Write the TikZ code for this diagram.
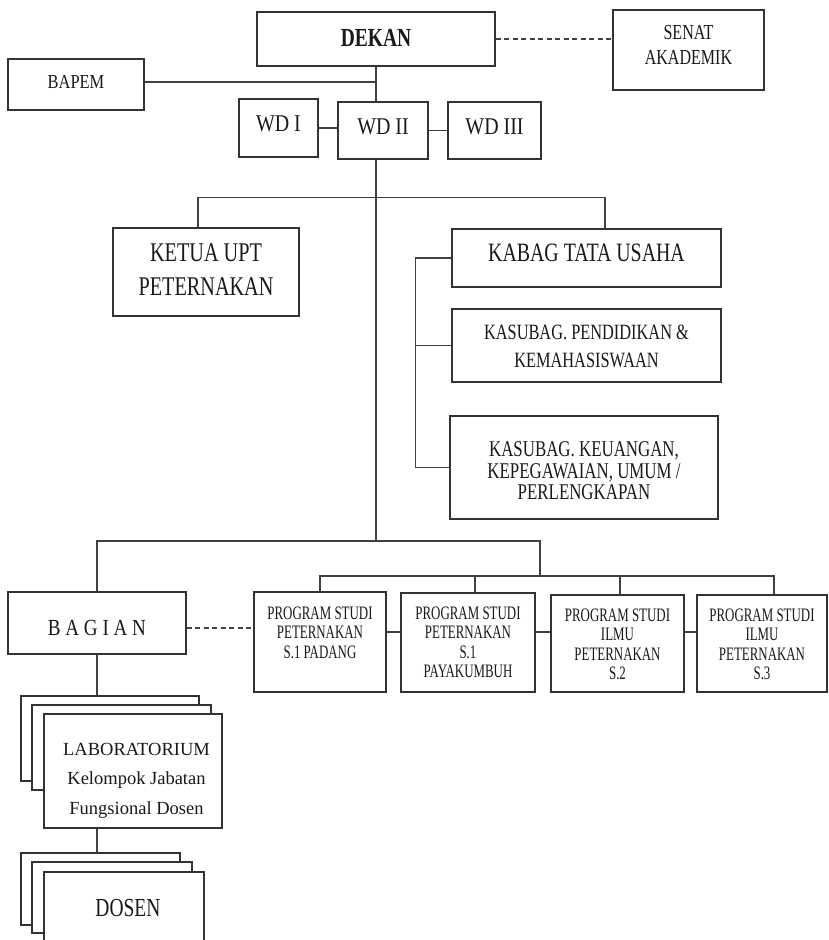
\documentclass[tikz,border=0pt]{standalone}
\usepackage{fontspec}
\setmainfont{Liberation Serif}
\newfontfamily\fA[FakeStretch=0.75]{Liberation Serif}
\newfontfamily\fB[FakeStretch=0.83]{Liberation Serif}
\newfontfamily\fC[FakeStretch=0.68]{Liberation Serif}
\newcommand\fsz[2]{\fontsize{#1}{#2}\selectfont}
\newcommand\tbox[3]{\parbox[c][#1][t]{#2}{\centering#3\par}}
\tikzset{
  bx/.style={draw=black!80, line width=1.6pt, fill=white, inner sep=0pt, text=black!90},
  ln/.style={draw=black!75, line width=1.3pt},
  dsh/.style={ln, dash pattern=on 5pt off 3.5pt},
}
\begin{document}
\begin{tikzpicture}[x=1pt,y=-1pt]
\useasboundingbox (0,0) rectangle (829,940);
\clip (0,0) rectangle (829,940);
\fill[white] (0,0) rectangle (829,940);

% top level
\node[bx, minimum width=238pt, minimum height=54pt] (dekan) at (376,39)
  {\tbox{19pt}{230pt}{\fA\bfseries\fsz{26}{30}DEKAN}};
\node[bx, minimum width=151pt, minimum height=80pt] (senat) at (688.5,50)
  {\tbox{50pt}{145pt}{\fA\fsz{21.4}{25}SENAT\\AKADEMIK}};
\node[bx, minimum width=136pt, minimum height=51pt] (bapem) at (76,84.5)
  {\tbox{18pt}{130pt}{\fB\fsz{19.8}{24}BAPEM}};
\node[bx, minimum width=79pt, minimum height=58pt] (wd1) at (278.5,128)
  {\tbox{24pt}{75pt}{\fB\fsz{24}{28}WD I}};
\node[bx, minimum width=90pt, minimum height=57pt] (wd2) at (383,130.5)
  {\tbox{23pt}{86pt}{\fB\fsz{24}{28}WD II}};
\node[bx, minimum width=93pt, minimum height=57pt] (wd3) at (494.5,130.5)
  {\tbox{23pt}{89pt}{\fB\fsz{24}{28}WD III}};

% middle level
\node[bx, minimum width=186pt, minimum height=88pt] (ketua) at (206,272)
  {\tbox{56pt}{180pt}{\fA\fsz{27}{34}KETUA UPT\\PETERNAKAN}};
\node[bx, minimum width=269pt, minimum height=58pt] (kabag) at (586.5,258)
  {\tbox{27.4pt}{262pt}{\fA\fsz{26.5}{30}KABAG TATA USAHA}};
\node[bx, minimum width=269pt, minimum height=73pt] (kas1) at (586.5,345.5)
  {\tbox{41pt}{262pt}{\fA\fsz{21.8}{28}KASUBAG. PENDIDIKAN \&\\KEMAHASISWAAN}};
\node[bx, minimum width=268pt, minimum height=103pt] (kas2) at (584,467.5)
  {\tbox{51.8pt}{262pt}{\fA\fsz{22.5}{21.5}KASUBAG. KEUANGAN,\\KEPEGAWAIAN, UMUM /\\PERLENGKAPAN}};

% lower level
\node[bx, minimum width=178pt, minimum height=62pt] (bagian) at (97,623)
  {\tbox{5pt}{170pt}{\fB\fsz{23}{26}B A G I A N}};
\node[bx, minimum width=132pt, minimum height=100pt] (p1) at (320,642)
  {\tbox{70.4pt}{126pt}{\fC\fsz{19}{19.5}PROGRAM STUDI\\PETERNAKAN\\S.1 PADANG}};
\node[bx, minimum width=134pt, minimum height=99pt] (p2) at (468,642.5)
  {\tbox{71.4pt}{128pt}{\fC\fsz{19}{19.5}PROGRAM STUDI\\PETERNAKAN\\S.1\\PAYAKUMBUH}};
\node[bx, minimum width=133pt, minimum height=97pt] (p3) at (617.5,643.5)
  {\tbox{69.6pt}{127pt}{\fC\fsz{19}{19.5}PROGRAM STUDI\\ILMU\\PETERNAKAN\\S.2}};
\node[bx, minimum width=130pt, minimum height=97pt] (p4) at (762,643.5)
  {\tbox{69.6pt}{124pt}{\fC\fsz{19}{19.5}PROGRAM STUDI\\ILMU\\PETERNAKAN\\S.3}};

% laboratorium stack
\node[bx, minimum width=178pt, minimum height=85pt] (lab3) at (110,738.5) {};
\node[bx, minimum width=179pt, minimum height=85pt] (lab2) at (121.5,747.5) {};
\node[bx, minimum width=178pt, minimum height=114pt] (lab) at (133,771)
  {\hspace*{7pt}\tbox{56pt}{160pt}{\fsz{18.5}{29.5}LABORATORIUM\\Kelompok Jabatan\\Fungsional Dosen}};

% dosen stack
\node[bx, minimum width=159pt, minimum height=72pt] (dos3) at (100.5,889) {};
\node[bx, minimum width=160pt, minimum height=71pt] (dos2) at (112,897.5) {};
\node[bx, minimum width=160pt, minimum height=72pt] (dos) at (124,908)
  {\hspace*{8pt}\tbox{17pt}{140pt}{\fA\fsz{26}{30}DOSEN}};

% coordinates
\coordinate (j1) at (376,541);
\coordinate (j2) at (540,576);

% connectors top
\draw[dsh] (dekan.east) -- (dekan.east -| senat.west);
\draw[ln] (dekan.south) -- (dekan.south |- wd2.north);
\draw[ln] ([yshift=2.5pt]bapem.east) -- ([yshift=2.5pt]bapem.east -| dekan.south);
\draw[ln] (wd1.east) -- (wd1.east -| wd2.west);
\draw[ln] (wd2.east) -- (wd2.east -| wd3.west);
\draw[ln] (dekan.south |- wd2.south) -- (j1);

% upper tee
\draw[ln] ([xshift=-8pt]ketua.north) -- ++(0,-30) -| ([xshift=18.5pt]kabag.north);

% bracket
\draw[ln] (kabag.west) -- ++(-36,0) |- (kas2.west);
\draw[ln] (kas1.west) -- ++(-36,0);

% lower tee
\draw[ln] (bagian.north) |- (j2 |- j1) -- (j2);
\draw[ln] (p1.north) |- (j2);
\draw[ln] (j2) -| ([xshift=12pt]p4.north);
\draw[ln] ([xshift=7pt]p2.north) -- ([xshift=7pt]p2.north |- j2);
\draw[ln] ([xshift=2.5pt]p3.north) -- ([xshift=2.5pt]p3.north |- j2);

% program links
\draw[ln] ([yshift=10pt]p1.east) -- ([yshift=10pt]p1.east -| p2.west);
\draw[ln] ([yshift=10.5pt]p2.east) -- ([yshift=10.5pt]p2.east -| p3.west);
\draw[ln] ([yshift=11.5pt]p3.east) -- ([yshift=11.5pt]p3.east -| p4.west);
\draw[dsh] ([yshift=-5pt]bagian.east) -- ([yshift=-5pt]bagian.east -| p1.west);

% bagian down
\draw[ln] (bagian.south) -- (bagian.south |- lab3.north);
\draw[ln] ([xshift=-36pt]lab.south) -- ([xshift=-36pt]lab.south |- dos3.north);
\end{tikzpicture}
\end{document}
